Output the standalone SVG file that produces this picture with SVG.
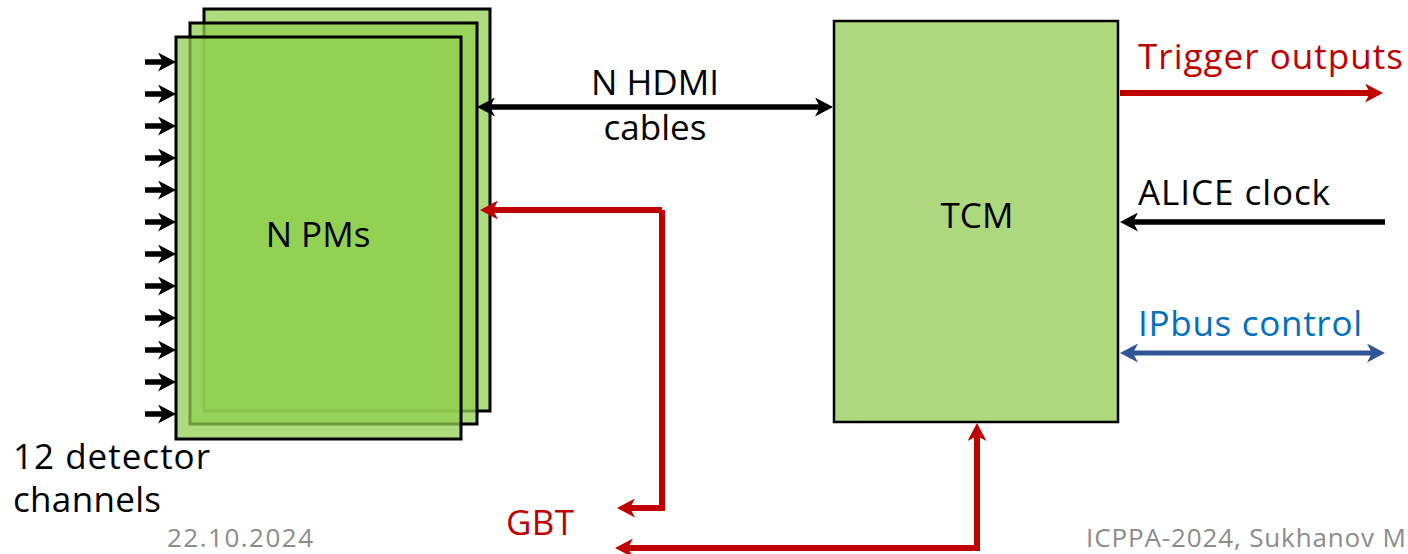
<svg xmlns="http://www.w3.org/2000/svg" width="1408" height="554" viewBox="0 0 1408 554">
<style>
.t{font-family:"Open Sans","Noto Sans",sans-serif;font-size:35px}
.foot{font-family:"Open Sans","Noto Sans",sans-serif;font-size:26px;fill:#8c8c8c}
.pm{fill:#92D050;fill-opacity:0.75;stroke:#000;stroke-width:3}
.blk{stroke:#000;stroke-width:5.5;fill:none}
.red{stroke:#C00000;stroke-width:6;fill:none}
.blu{stroke:#2F5597;stroke-width:5;fill:none}
</style>
<defs>
<marker id="ak" viewBox="0 0 18 19" markerWidth="18" markerHeight="19" refX="11" refY="9.5" orient="auto-start-reverse" markerUnits="userSpaceOnUse"><path d="M0,0 L18,9.5 L0,19 L5,9.5 z" fill="#000"/></marker>
<marker id="ar" viewBox="0 0 18 19" markerWidth="18" markerHeight="19" refX="11" refY="9.5" orient="auto-start-reverse" markerUnits="userSpaceOnUse"><path d="M0,0 L18,9.5 L0,19 L5,9.5 z" fill="#C00000"/></marker>
<marker id="ab" viewBox="0 0 18 19" markerWidth="18" markerHeight="19" refX="11" refY="9.5" orient="auto-start-reverse" markerUnits="userSpaceOnUse"><path d="M0,0 L18,9.5 L0,19 L5,9.5 z" fill="#2F5597"/></marker>
</defs>
<rect width="1408" height="554" fill="#fff"/>
<g id="pms">
<rect class="pm" x="204" y="9" width="286" height="402"/>
<rect class="pm" x="190" y="23" width="287" height="401"/>
<rect class="pm" x="176" y="37" width="285" height="402"/>
<text class="t" x="318" y="247" text-anchor="middle">N PMs</text>
</g>
<g id="tcm">
<rect x="834" y="21" width="284" height="401" fill="#AED87E" stroke="#000" stroke-width="2.5"/>
<text class="t" x="977" y="228" text-anchor="middle">TCM</text>
</g>
<g id="connectors">
<g class="blk" marker-end="url(#ak)">
<path d="M145,62 H169"/><path d="M145,94 H169"/><path d="M145,126 H169"/><path d="M145,158 H169"/>
<path d="M145,190 H169"/><path d="M145,222 H169"/><path d="M145,254 H169"/><path d="M145,286 H169"/>
<path d="M145,318 H169"/><path d="M145,350 H169"/><path d="M145,382 H169"/><path d="M145,414 H169"/>
</g>
<path class="blk" d="M484,107 H826" marker-start="url(#ak)" marker-end="url(#ak)"/>
<path class="red" d="M662,210 H487" marker-end="url(#ar)"/>
<path class="red" d="M662,210 V508 H624" marker-end="url(#ar)"/>
<path class="red" d="M977,430 V548 H622" marker-start="url(#ar)" marker-end="url(#ar)"/>
<path class="red" d="M1120,93 H1376" marker-end="url(#ar)"/>
<path class="blk" d="M1385,222 H1127" marker-end="url(#ak)"/>
<path class="blu" d="M1127,353 H1378" marker-start="url(#ab)" marker-end="url(#ab)"/>
</g>
<g id="labels">
<text class="t" x="655" y="95" text-anchor="middle">N HDMI</text>
<text class="t" x="655" y="140" text-anchor="middle">cables</text>
<text class="t" x="1138" y="69" fill="#C00000" textLength="265">Trigger outputs</text>
<text class="t" x="1138" y="205" textLength="192">ALICE clock</text>
<text class="t" x="1138" y="336" fill="#0070C0" textLength="224">IPbus control</text>
<text class="t" x="506" y="535" fill="#C00000" textLength="68">GBT</text>
<text class="t" x="13" y="469" textLength="197">12 detector</text>
<text class="t" x="13" y="512" textLength="148">channels</text>
<text class="foot" x="167" y="547" textLength="146">22.10.2024</text>
<text class="foot" x="1086" y="547" textLength="320">ICPPA-2024, Sukhanov M</text>
</g>
</svg>
